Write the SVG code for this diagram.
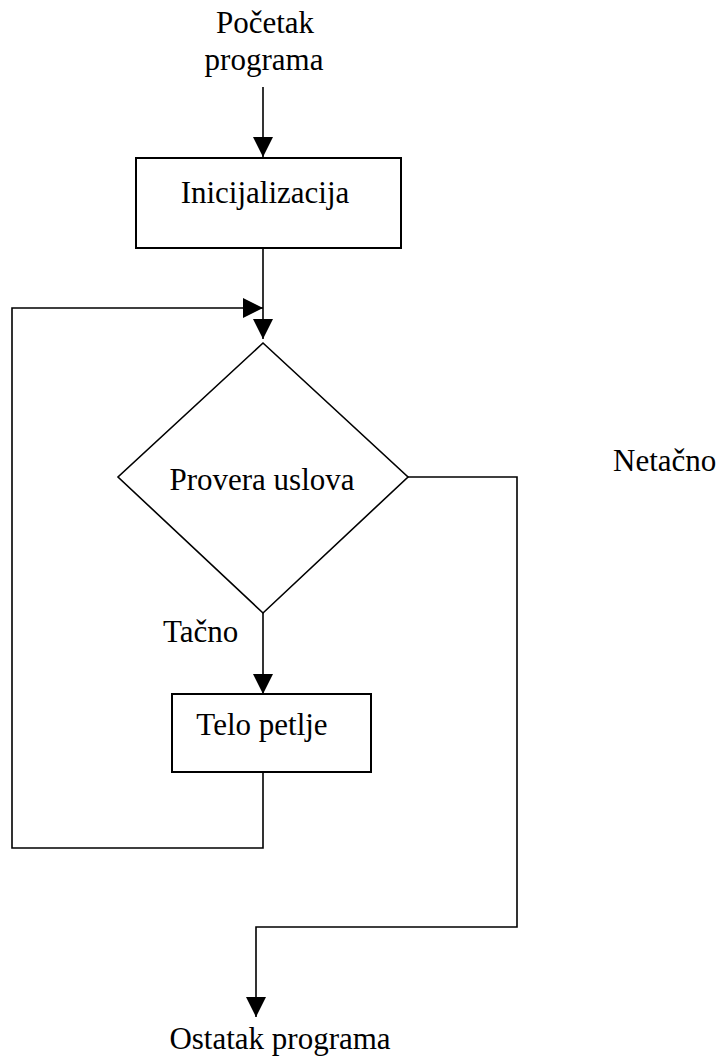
<svg xmlns="http://www.w3.org/2000/svg" width="722" height="1057" viewBox="0 0 722 1057">
<style>
text{font-family:"Liberation Serif","Times New Roman",serif;font-size:31px;fill:#000}
.box{fill:#fff;stroke:#000;stroke-width:2}
.ln{fill:none;stroke:#000;stroke-width:1.6}
</style>
<defs>
<marker id="ah" markerUnits="userSpaceOnUse" markerWidth="22" markerHeight="22" refX="20" refY="10" orient="auto" viewBox="0 0 22 20">
<polygon points="0,0 20,10 0,20" fill="#000"/>
</marker>
</defs>
<rect width="722" height="1057" fill="#fff"/>
<g id="start"><text x="265" y="33" text-anchor="middle">Početak</text><text x="264" y="70" text-anchor="middle">programa</text></g>
<g id="init"><rect class="box" x="136" y="158" width="265" height="90"/><text x="265" y="203" text-anchor="middle">Inicijalizacija</text></g>
<g id="cond"><polygon class="ln" points="263,343 408,477 263,613 118,477"/><text x="262" y="490" text-anchor="middle">Provera uslova</text></g>
<g id="body"><rect class="box" x="172" y="694" width="199" height="78"/><text x="262" y="735" text-anchor="middle">Telo petlje</text></g>
<g id="end"><text x="280" y="1049" text-anchor="middle">Ostatak programa</text></g>
<g id="labels"><text x="163" y="642">Tačno</text><text x="613" y="471">Netačno</text></g>
<g id="connectors">
<path class="ln" d="M263,87 V157" marker-end="url(#ah)"/>
<path class="ln" d="M263,248 V339" marker-end="url(#ah)"/>
<path class="ln" d="M263,772 V848 H12 V308 H263" marker-end="url(#ah)"/>
<path class="ln" d="M263,613 V694" marker-end="url(#ah)"/>
<path class="ln" d="M408,477 H517 V927 H256 V1017" marker-end="url(#ah)"/>
</g>
</svg>
